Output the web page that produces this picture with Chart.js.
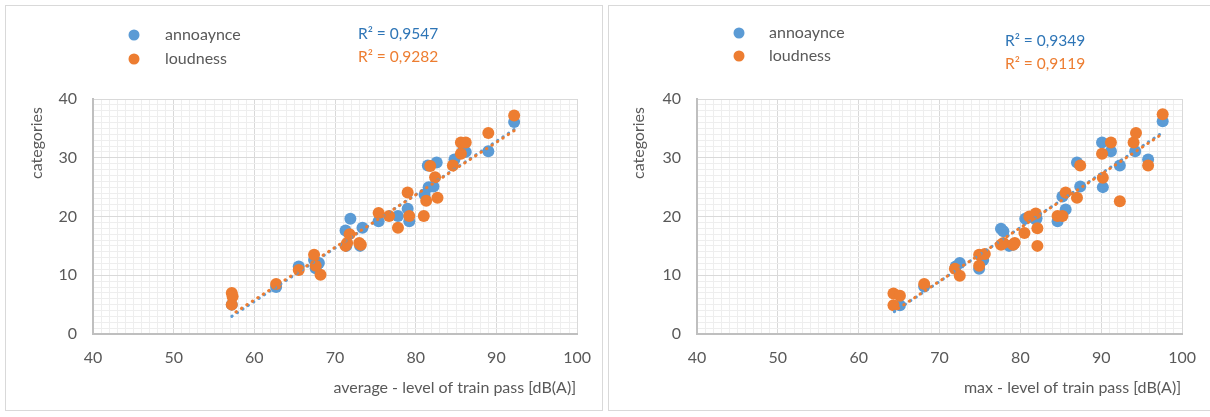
<!DOCTYPE html>
<html>
<head>
<meta charset="utf-8">
<script src="https://cdn.jsdelivr.net/npm/chart.js@4.4.1/dist/chart.umd.min.js"></script>
<style>
  html, body { margin: 0; padding: 0; background: #ffffff; }
  body { width: 1210px; height: 417px; position: relative; overflow: hidden; }
  .panel { position: absolute; top: 5px; height: 406px; border: 1px solid #d9d9d9; box-sizing: border-box; }
  .wrap { position: absolute; top: 0; width: 605px; height: 417px; }
</style>
</head>
<body>
<div class="panel" style="left:5px;width:598px;"></div>
<div class="panel" style="left:608px;width:610px;"></div>
<div class="wrap" style="left:0px;"><canvas id="avgChart" width="605" height="417"></canvas></div>
<div class="wrap" style="left:605px;"><canvas id="maxChart" width="605" height="417"></canvas></div>
<script>
// Average level of train pass: annoyance and loudness categories
const avgAnnoyX = [57.2, 62.7, 65.5, 67.6, 67.4, 68.0, 71.3, 71.9, 71.4, 73.1, 73.4, 75.4, 77.8, 79.0, 79.2, 81.1, 81.6, 82.2, 81.5, 82.6, 84.8, 85.9, 86.2, 89.0, 92.2];
const avgAnnoyY = [5.0, 8.0, 11.5, 11.2, 12.6, 12.1, 17.6, 19.6, 15.0, 15.0, 18.1, 19.2, 20.1, 21.3, 19.2, 23.7, 25.0, 25.1, 28.7, 29.2, 29.7, 31.4, 31.0, 31.1, 36.1];
const avgLoudX = [57.2, 57.3, 57.2, 62.7, 65.5, 67.4, 67.6, 68.2, 71.3, 71.5, 71.8, 73.2, 73.0, 75.4, 76.7, 77.8, 79.0, 79.2, 81.0, 81.3, 82.7, 82.4, 81.8, 84.6, 85.6, 85.6, 86.2, 89.0, 92.2];
const avgLoudY = [7.0, 6.4, 5.0, 8.5, 10.9, 13.5, 11.6, 10.1, 15.0, 15.5, 17.0, 15.2, 15.5, 20.6, 20.1, 18.1, 24.1, 20.1, 20.1, 22.7, 23.2, 26.7, 28.6, 28.7, 30.7, 32.6, 32.6, 34.2, 37.2];
// Linear trend end points (x, y)
const avgAnnoyTrendX = [57.2, 92.2];
const avgAnnoyTrendY = [3.0, 34.8];
const avgLoudTrendX = [57.2, 92.2];
const avgLoudTrendY = [3.3, 34.6];

// Maximum level of train pass
const maxAnnoyX = [65.1, 68.1, 72.0, 72.5, 74.9, 75.4, 77.6, 77.9, 79.1, 78.6, 80.6, 81.9, 82.0, 84.6, 85.6, 85.2, 87.4, 87.0, 90.2, 90.1, 91.2, 92.3, 94.2, 95.8, 97.6];
const maxAnnoyY = [4.9, 8.1, 11.5, 12.1, 11.1, 12.6, 17.9, 17.5, 15.2, 15.0, 19.6, 19.5, 19.7, 19.2, 21.2, 23.4, 25.1, 29.2, 25.0, 32.6, 31.1, 28.7, 31.1, 29.7, 36.2];
const maxLoudX = [64.3, 65.1, 64.3, 68.1, 71.9, 72.5, 74.9, 74.9, 75.6, 77.6, 77.9, 79.1, 79.3, 80.5, 81.1, 81.9, 82.1, 82.1, 84.6, 85.2, 85.6, 87.0, 87.4, 90.2, 90.1, 91.2, 92.3, 94.0, 94.3, 95.8, 97.6];
const maxLoudY = [6.9, 6.5, 4.9, 8.5, 11.1, 9.9, 11.6, 13.5, 13.6, 15.2, 15.5, 15.2, 15.5, 17.2, 20.0, 20.5, 18.0, 15.0, 20.1, 20.1, 24.1, 23.2, 28.7, 26.6, 30.7, 32.6, 22.6, 32.6, 34.2, 28.7, 37.4];
const maxAnnoyTrendX = [64.4, 97.6];
const maxAnnoyTrendY = [3.8, 34.3];
const maxLoudTrendX = [64.4, 97.6];
const maxLoudTrendY = [3.9, 34.1];

const seriesNames = ['annoaynce', 'loudness'];
const avgR2 = ['R² = 0,9547', 'R² = 0,9282'];
const maxR2 = ['R² = 0,9349', 'R² = 0,9119'];
const xTicks = [40, 50, 60, 70, 80, 90, 100];
const yTicks = [0, 10, 20, 30, 40];

const BLUE = '#5b9bd5', ORANGE = '#ed7d31', BLUE_TXT = '#2e75b6';
const TXT = '#595959';
const FONT = 'Lato, "Open Sans", sans-serif';

function pts(xs, ys) { return xs.map((x, i) => ({ x: x, y: ys[i] })); }

// Legend, R² labels and axis titles
const panelText = {
  id: 'panelText',
  afterDraw(chart, args, o) {
    const c = chart.ctx;
    c.save();
    c.textBaseline = 'middle';
    // legend
    [[BLUE, o.legendY[0]], [ORANGE, o.legendY[1]]].forEach(([col, y], i) => {
      c.fillStyle = col;
      c.beginPath(); c.arc(o.legendX, y, 5.5, 0, Math.PI * 2); c.fill();
      c.fillStyle = TXT;
      c.font = '16px ' + FONT;
      c.textAlign = 'left';
      c.fillText(seriesNames[i], o.legendTextX, y);
    });
    // R²
    c.font = '15.5px ' + FONT;
    c.fillStyle = BLUE_TXT; c.fillText(o.r2[0], o.r2X, o.r2Y[0]);
    c.fillStyle = ORANGE; c.fillText(o.r2[1], o.r2X, o.r2Y[1]);
    // x title
    c.fillStyle = TXT;
    c.font = '16px ' + FONT;
    c.textAlign = 'right';
    c.fillText(o.xTitle, chart.chartArea.right - 1, o.xTitleY);
    // y title
    c.translate(o.yTitleX, o.yTitleY);
    c.rotate(-Math.PI / 2);
    c.textAlign = 'center';
    c.fillText('categories', 0, 0);
    c.restore();
  }
};

function makeChart(id, d) {
  const gridColor = (ctx) => (ctx.tick && ctx.tick.value % 10 === 0) ? '#d9d9d9' : '#eeeeee';
  return new Chart(document.getElementById(id), {
    type: 'scatter',
    data: {
      datasets: [
        { label: 'annoaynce trend', type: 'line', data: pts(d.atx, d.aty), borderColor: BLUE, borderWidth: 3,
          borderDash: [0.5, 6], borderCapStyle: 'round', pointRadius: 0, fill: false, order: 0.5 },
        { label: 'loudness trend', type: 'line', data: pts(d.ltx, d.lty), borderColor: ORANGE, borderWidth: 3,
          borderDash: [0.5, 6], borderDashOffset: 1.6, borderCapStyle: 'round', pointRadius: 0, fill: false, order: 0 },
        { label: 'loudness', data: pts(d.lx, d.ly), backgroundColor: ORANGE, borderColor: ORANGE, pointRadius: 6, borderWidth: 0, order: 1 },
        { label: 'annoaynce', data: pts(d.ax, d.ay), backgroundColor: BLUE, borderColor: BLUE, pointRadius: 6, borderWidth: 0, order: 2 }
      ]
    },
    options: {
      responsive: false,
      animation: false,
      events: [],
      layout: { padding: { top: 99, left: 0, right: d.padR, bottom: 0 } },
      plugins: {
        legend: { display: false },
        tooltip: { enabled: false },
        panelText: d.text
      },
      scales: {
        x: {
          type: 'linear', min: 40, max: 100,
          afterFit: (s) => { s.height = 83; },
          afterBuildTicks: (s) => { s.ticks = []; for (let v = 40; v <= 100; v++) s.ticks.push({ value: v }); },
          ticks: { autoSkip: false, maxRotation: 0, padding: 14, color: TXT, font: { family: FONT, size: 16 },
            callback: (v) => xTicks.includes(v) ? String(v) : '' },
          grid: { color: gridColor, lineWidth: 1, drawTicks: false },
          border: { color: '#bfbfbf', width: 2 }
        },
        y: {
          type: 'linear', min: 0, max: 40,
          afterFit: (s) => { s.width = d.yW; },
          afterBuildTicks: (s) => { s.ticks = []; for (let v = 0; v <= 40; v++) s.ticks.push({ value: v }); },
          ticks: { autoSkip: false, padding: 16, color: TXT, font: { family: FONT, size: 16 },
            callback: (v) => yTicks.includes(v) ? String(v) : '' },
          grid: { color: gridColor, lineWidth: 1, drawTicks: false },
          border: { color: '#bfbfbf', width: 2 }
        }
      }
    },
    plugins: [panelText]
  });
}

makeChart('avgChart', {
  ax: avgAnnoyX, ay: avgAnnoyY, lx: avgLoudX, ly: avgLoudY,
  atx: avgAnnoyTrendX, aty: avgAnnoyTrendY, ltx: avgLoudTrendX, lty: avgLoudTrendY,
  padR: 25, yW: 93,
  text: { legendX: 134, legendY: [35, 59], legendTextX: 165, r2: avgR2, r2X: 358, r2Y: [34, 57],
          xTitle: 'average - level of train pass [dB(A)]', xTitleY: 388, yTitleX: 37, yTitleY: 143 }
});
makeChart('maxChart', {
  ax: maxAnnoyX, ay: maxAnnoyY, lx: maxLoudX, ly: maxLoudY,
  atx: maxAnnoyTrendX, aty: maxAnnoyTrendY, ltx: maxLoudTrendX, lty: maxLoudTrendY,
  padR: 27, yW: 92,
  text: { legendX: 134, legendY: [33, 56], legendTextX: 164, r2: maxR2, r2X: 400, r2Y: [41, 64],
          xTitle: 'max - level of train pass [dB(A)]', xTitleY: 388, yTitleX: 34, yTitleY: 143 }
});
</script>
</body>
</html>
